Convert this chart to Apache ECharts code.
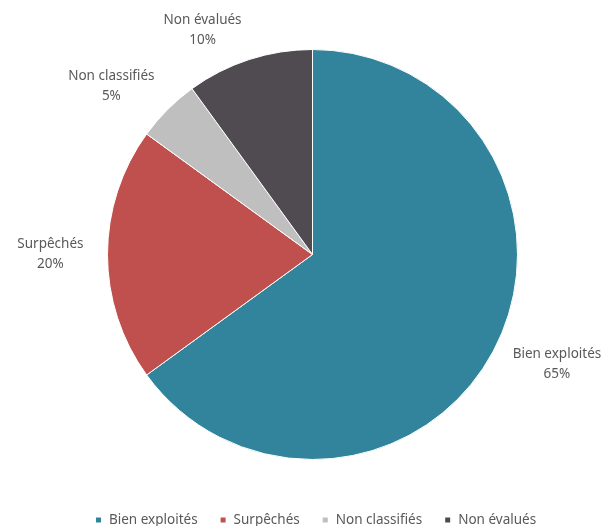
<!DOCTYPE html>
<html>
<head>
<meta charset="utf-8">
<script src="https://cdn.jsdelivr.net/npm/echarts@6/dist/echarts.min.js"></script>
<style>
  html, body { margin: 0; padding: 0; background: #fff; }
  #chart { width: 609px; height: 526px; }
</style>
</head>
<body>
<div id="chart"></div>
<script>
const categories = ['Bien exploités', 'Surpêchés', 'Non classifiés', 'Non évalués'];
const shares = [65, 20, 5, 10];
const colors = ['#31849B', '#C0504D', '#BFBFBF', '#4F4B50'];
// distance du libellé au bord du camembert, par part
const labelGaps = [14, 22, 24, 31];
// petit décalage des libellés [dx, dy]
const labelShift = [[0, 10], [3, 0], [9, -6], [7, 0]];

const chart = echarts.init(document.getElementById('chart'));

const pieData = categories.map(function (name, i) {
  return {
    name: name,
    value: shares[i],
    itemStyle: { color: colors[i] },
    labelLine: { length: labelGaps[i], length2: 0 }
  };
});

const option = {
  animation: false,
  legend: {
    top: 508,
    left: 89,
    itemWidth: 7,
    itemHeight: 7,
    itemGap: 21,
    icon: 'rect',
    textStyle: { color: '#595959', fontSize: 13.5, fontFamily: 'Noto Sans', padding: [0, 0, 0, 2] },
    data: categories
  },
  series: [
    {
      type: 'pie',
      center: [312.5, 254.5],
      radius: 205,
      startAngle: 90,
      clockwise: true,
      avoidLabelOverlap: false,
      itemStyle: { borderColor: '#fff', borderWidth: 1 },
      label: {
        show: true,
        position: 'outside',
        color: '#595959',
        fontFamily: 'Noto Sans',
        fontSize: 13.5,
        lineHeight: 20,
        formatter: function (p) {
          return '{c|' + p.name + '}\n{c|' + p.value + '%}';
        },
        rich: {
          c: { align: 'center', fontSize: 13.5, lineHeight: 20, color: '#595959', fontFamily: 'Noto Sans' }
        }
      },
      labelLine: { show: false },
      labelLayout: function (params) {
        const s = labelShift[params.dataIndex];
        return { dx: s[0], dy: s[1] };
      },
      data: pieData
    }
  ]
};

chart.setOption(option);
</script>
</body>
</html>
